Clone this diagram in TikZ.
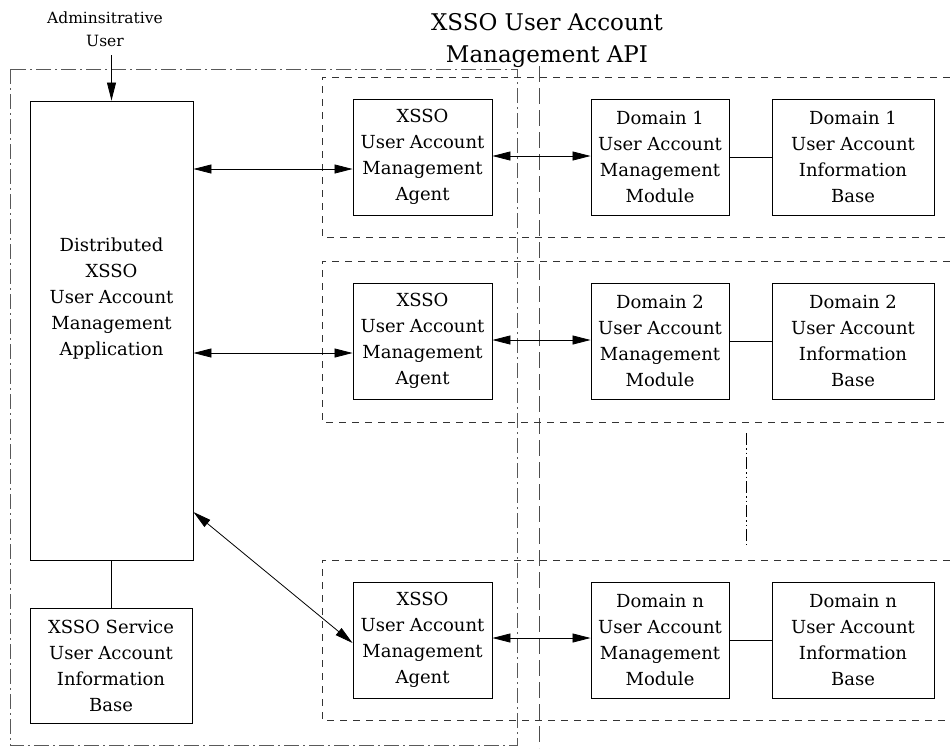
\documentclass[tikz,border=0pt]{standalone}
\usepackage{fontspec}
\setmainfont{DejaVu Serif}
\usetikzlibrary{arrows.meta}
\begin{document}
\begin{tikzpicture}[x=1pt,y=-1pt,
  boxstyle/.style={draw, line width=0.9pt, inner sep=0pt, align=center,
    font=\fontsize{18}{26}\selectfont},
  txtstyle/.style={inner sep=0pt, align=center, font=\fontsize{18}{26}\selectfont},
  arrowhead/.tip={Triangle[length=18pt,width=9pt]},
  darr/.style={line width=0.8pt, arrowhead-arrowhead},
  sarr/.style={line width=0.8pt, -arrowhead},
  plainline/.style={line width=0.8pt},
  dashbox/.style={line width=0.9pt, black!80, dash pattern=on 7pt off 6pt},
  outerbox/.style={line width=1pt, black!65, dash pattern=on 15pt off 4pt on 2pt off 4pt},
  longdash/.style={line width=1pt, black!70, dash pattern=on 16pt off 6pt},
  dotdash/.style={line width=0.9pt, dash pattern=on 12pt off 3pt on 1.5pt off 3pt on 1.5pt off 3pt},
  agentbox/.style={boxstyle, minimum width=139pt, minimum height=116pt},
  modbox/.style={boxstyle, minimum width=138pt, minimum height=116pt},
  infobox/.style={boxstyle, minimum width=162pt, minimum height=116pt}]
\useasboundingbox (0,0) rectangle (950,748);

% title and admin user
\node[inner sep=0pt, align=center, font=\fontsize{23}{32}\selectfont] (title) at (547,40.5)
  {XSSO User Account\\Management API};
\node[inner sep=0pt, align=center, font=\fontsize{15.5}{23}\selectfont] (admin) at (105,29)
  {Adminsitrative\\User};

% frames
\draw[outerbox] (10,69) rectangle (517,745);
\draw[longdash] (539,66) -- (539,748);
\draw[dashbox] (950,77) -- (322,77) -- (322,237) -- (950,237);
\draw[dashbox] (950,261) -- (322,261) -- (322,422) -- (950,422);
\draw[dashbox] (950,560) -- (322,560) -- (322,720) -- (950,720);
\draw[dotdash] (746,433) -- (746,545);

% left boxes
\node[boxstyle, minimum width=163pt, minimum height=459pt] (app) at (111.5,330.5) {};
\node[txtstyle] (apptext) at (111.5,299)
  {Distributed\\XSSO\\User Account\\Management\\Application};
\node[boxstyle, minimum width=162pt, minimum height=115pt] (service) at (111,665.5)
  {XSSO Service\\User Account\\Information\\Base};

% agents
\node[agentbox] (ag1) at (422.5,157) {XSSO\\User Account\\Management\\Agent};
\node[agentbox] (ag2) at (422.5,341) {XSSO\\User Account\\Management\\Agent};
\node[agentbox] (ag3) at (422.5,640) {XSSO\\User Account\\Management\\Agent};

% modules
\node[modbox] (mod1) at (660,157) {Domain 1\\User Account\\Management\\Module};
\node[modbox] (mod2) at (660,341) {Domain 2\\User Account\\Management\\Module};
\node[modbox] (mod3) at (660,640) {Domain n\\User Account\\Management\\Module};

% information bases
\node[infobox] (inf1) at (853,157) {Domain 1\\User Account\\Information\\Base};
\node[infobox] (inf2) at (853,341) {Domain 2\\User Account\\Information\\Base};
\node[infobox] (inf3) at (853,640) {Domain n\\User Account\\Information\\Base};

% connectors
\coordinate (adminfoot) at (111.5,55);
\draw[sarr] (adminfoot) -- (app.north);
\draw[plainline] (app.south -| service.north) -- (service.north);

\coordinate (a1in) at ([yshift=-12pt]ag1.west);
\coordinate (a2in) at ([yshift=-12pt]ag2.west);
\coordinate (a3in) at ([yshift=-3pt]ag3.west);
\coordinate (appdiag) at ([yshift=-181.5pt]app.east);
\draw[darr] (a1in -| app.east) -- (a1in);
\draw[darr] (a2in -| app.east) -- (a2in);
\draw[darr] (appdiag) -- (a3in);

\draw[darr] ([yshift=1pt]ag1.east) -- ([yshift=1pt]mod1.west);
\draw[darr] ([yshift=1pt]ag2.east) -- ([yshift=1pt]mod2.west);
\draw[darr] ([yshift=2pt]ag3.east) -- ([yshift=2pt]mod3.west);

\draw[plainline] (mod1.east) -- (inf1.west);
\draw[plainline] (mod2.east) -- (inf2.west);
\draw[plainline] (mod3.east) -- (inf3.west);
\end{tikzpicture}
\end{document}
